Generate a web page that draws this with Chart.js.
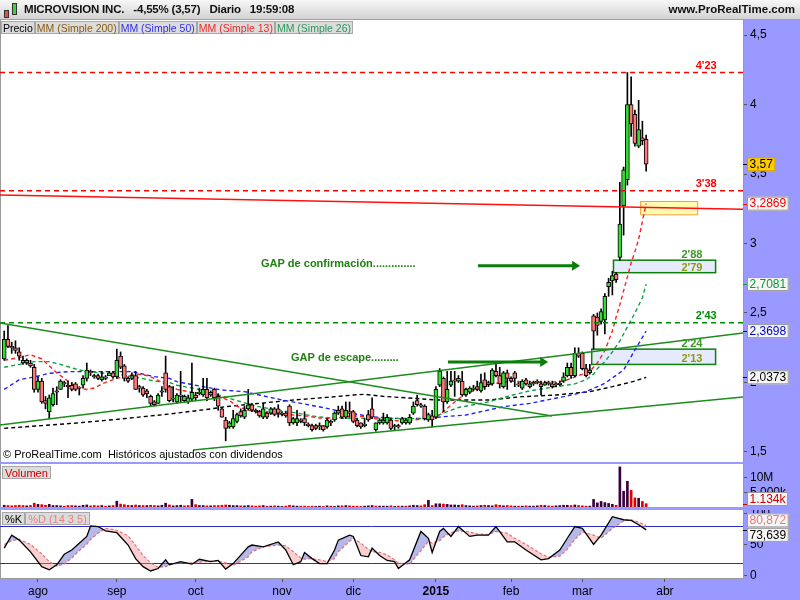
<!DOCTYPE html>
<html>
<head>
<meta charset="utf-8">
<title>MICROVISION INC.</title>
<script src="https://cdn.jsdelivr.net/npm/chart.js@4.4.1/dist/chart.umd.min.js"></script>
<style>
  body { margin: 0; width: 800px; height: 600px; overflow: hidden; position: relative;
         background: #9999ff; font-family: "Liberation Sans", Arial, sans-serif; }
  #head { position: absolute; left: 0; top: 0; width: 800px; height: 20px; box-sizing: border-box;
          background: linear-gradient(#f7f7f7, #d3d3d3); border-bottom: 1px solid #a0a0a0; }
  #title { position: absolute; left: 24px; top: 3px; display: flex; gap: 9px; letter-spacing: -0.2px;
           font-size: 11.5px; font-weight: bold; color: #111; white-space: nowrap; }
  #site { position: absolute; right: 5px; top: 3px; font-size: 11.5px; font-weight: bold; color: #111; }
  .row { position: absolute; display: flex; }
  .tag { height: 13px; line-height: 12px; font-size: 10.5px; padding: 0 1px;
         background: #dcdcdc; border: 1px solid #a8a8a8; box-sizing: border-box; white-space: nowrap; }
  canvas { position: absolute; left: 0; }
  .ico { position: absolute; border: 1px solid #333; }
</style>
</head>
<body>
<canvas id="price" width="800" height="442" style="top:20px"></canvas>
<canvas id="vol" width="800" height="43" style="top:464px"></canvas>
<canvas id="stoch" width="800" height="90" style="top:510px"></canvas>

<div id="head">
  <div class="ico" style="left:4px;top:10px;width:3px;height:6px;background:#e05050"></div>
  <div class="ico" style="left:12px;top:3px;width:3px;height:10px;background:#40d040"></div>
  <div id="title"><span>MICROVISION INC.</span><span>-4,55% (3,57)</span><span>Diario</span><span>19:59:08</span></div>
  <div id="site">www.ProRealTime.com</div>
</div>
<div class="row" style="left:1px;top:21px">
  <div class="tag" style="color:#000">Precio</div>
  <div class="tag" style="color:#8a5a10">MM (Simple 200)</div>
  <div class="tag" style="color:#3030ee">MM (Simple 50)</div>
  <div class="tag" style="color:#ee2a2a">MM (Simple 13)</div>
  <div class="tag" style="color:#2a9a5a">MM (Simple 26)</div>
</div>
<div style="position:absolute;left:3px;top:448px;font-size:11px;color:#000">© ProRealTime.com&nbsp; Históricos ajustados con dividendos</div>
<div class="row" style="left:2px;top:466px"><div class="tag" style="color:#cc0000;font-size:11px;padding:0 2px">Volumen</div></div>
<div class="row" style="left:2px;top:512px">
  <div class="tag" style="color:#000;font-size:11px;padding:0 2px">%K</div>
  <div class="tag" style="color:#e88080;font-size:11px;padding:0 2px">%D (14 3 5)</div>
</div>

<script>
const FONT = '"Liberation Sans", Arial, sans-serif';
Chart.defaults.font.family = FONT;

// ---- data (daily candles, index 0 = 21 jul 2014, 171 = 25 mar 2015)
const opens = [2.17,2.31,2.26,2.25,2.22,2.14,2.14,2.14,2.11,1.95,
  2.01,1.87,1.79,1.84,1.93,1.95,2.00,1.98,1.98,1.99,
  1.96,1.98,2.03,2.08,2.04,2.05,2.02,2.04,2.05,2.07,
  2.04,2.19,2.12,2.03,2.03,2.05,1.97,1.96,1.94,1.90,
  1.86,1.85,1.93,2.07,1.97,1.88,1.86,1.90,1.87,1.86,
  1.88,1.91,1.92,1.91,1.95,1.93,1.95,1.90,1.81,1.73,
  1.68,1.68,1.72,1.79,1.75,1.81,1.84,1.80,1.79,1.75,
  1.78,1.78,1.81,1.81,1.77,1.78,1.83,1.71,1.71,1.73,
  1.74,1.70,1.69,1.69,1.68,1.69,1.68,1.72,1.73,1.78,
  1.81,1.75,1.79,1.79,1.73,1.71,1.69,1.77,1.81,1.66,
  1.71,1.71,1.71,1.73,1.68,1.69,1.71,1.71,1.71,1.78,
  1.87,1.84,1.83,1.73,1.76,1.75,1.98,2.03,1.86,1.98,
  2.02,2.01,2.01,1.91,1.93,1.95,1.97,1.94,2.02,2.00,
  1.99,2.08,2.05,1.97,2.07,2.03,2.07,1.99,1.96,2.02,
  1.97,1.99,2.00,1.99,1.98,2.00,1.99,1.99,1.985,2.01,
  2.05,2.11,2.05,2.21,2.21,2.10,2.07,2.48,2.47,2.44,
  2.45,2.69,2.73,2.78,2.90,3.27,3.46,4.00,3.93,3.70,
  3.76,3.75];
const highs = [2.37,2.41,2.29,2.30,2.25,2.19,2.17,2.16,2.13,2.04,
  2.03,1.90,1.91,1.96,1.97,2.02,2.01,2.01,2.00,2.00,
  1.97,2.05,2.14,2.09,2.06,2.06,2.08,2.05,2.08,2.08,
  2.24,2.22,2.13,2.04,2.07,2.08,1.98,1.97,1.95,1.91,
  1.87,1.92,1.97,2.19,1.98,1.97,1.92,2.08,1.91,1.91,
  2.14,1.93,1.96,2.03,2.03,1.94,1.96,1.92,1.82,1.75,
  1.72,1.80,1.78,1.81,1.83,1.95,1.85,1.81,1.80,1.85,
  1.79,1.82,1.82,1.84,1.79,1.79,1.84,1.75,1.80,1.74,
  1.79,1.71,1.70,1.70,1.71,1.69,1.74,1.73,1.79,1.83,
  1.83,1.86,1.86,1.80,1.74,1.71,1.74,1.80,1.89,1.71,
  1.74,1.78,1.77,1.74,1.70,1.70,1.75,1.74,1.77,1.86,
  1.91,1.85,1.84,1.78,1.80,1.97,2.10,2.04,2.08,2.08,
  2.08,2.05,2.08,1.96,1.97,1.98,2.01,2.06,2.07,2.01,
  2.10,2.15,2.11,2.08,2.09,2.04,2.08,2.00,2.02,2.03,
  2.01,2.01,2.02,2.01,2.01,2.01,2.01,2.00,2.01,2.07,
  2.14,2.14,2.25,2.25,2.22,2.13,2.13,2.49,2.50,2.53,
  2.64,2.75,2.80,2.79,3.44,3.55,4.23,4.20,3.96,4.03,
  3.88,3.78];
const lows = [2.16,2.25,2.21,2.21,2.16,2.13,2.13,2.11,1.93,1.93,
  1.85,1.81,1.74,1.83,1.84,1.95,1.97,1.89,1.94,1.94,
  1.91,1.96,2.01,2.05,2.03,2.02,2.01,2.02,2.05,2.03,
  2.03,2.10,2.01,2.00,2.02,1.95,1.93,1.90,1.89,1.83,
  1.83,1.85,1.90,1.93,1.86,1.86,1.85,1.86,1.86,1.85,
  1.87,1.87,1.91,1.90,1.87,1.90,1.87,1.80,1.75,1.58,
  1.67,1.67,1.71,1.75,1.74,1.80,1.79,1.78,1.75,1.74,
  1.74,1.77,1.76,1.75,1.76,1.75,1.69,1.70,1.69,1.71,
  1.69,1.68,1.65,1.66,1.66,1.65,1.67,1.69,1.72,1.77,
  1.74,1.74,1.75,1.71,1.68,1.67,1.68,1.72,1.74,1.65,
  1.70,1.70,1.70,1.66,1.66,1.67,1.70,1.70,1.70,1.77,
  1.83,1.82,1.73,1.72,1.68,1.74,1.97,1.79,1.85,1.97,
  1.90,2.00,1.90,1.90,1.92,1.94,1.94,1.93,1.95,1.97,
  1.98,2.04,1.96,1.96,1.95,2.00,1.97,1.97,1.95,1.98,
  1.96,1.98,1.99,1.91,1.98,1.98,1.96,1.97,1.975,2.00,
  2.04,2.03,2.04,2.18,2.09,2.04,2.06,2.24,2.34,2.42,
  2.35,2.62,2.63,2.72,2.88,3.06,3.42,3.77,3.70,3.69,
  3.71,3.52];
const closes = [2.31,2.26,2.25,2.23,2.19,2.16,2.16,2.12,1.95,2.01,
  1.86,1.85,1.89,1.92,1.94,2.01,1.99,1.97,1.95,1.95,
  1.96,2.03,2.09,2.07,2.05,2.03,2.04,2.03,2.07,2.04,
  2.16,2.11,2.03,2.01,2.05,1.95,1.96,1.91,1.92,1.85,
  1.84,1.91,1.94,1.95,1.87,1.88,1.91,1.91,1.90,1.89,
  1.93,1.89,1.93,1.95,1.89,1.91,1.89,1.83,1.75,1.67,
  1.71,1.74,1.77,1.76,1.80,1.84,1.80,1.79,1.76,1.81,
  1.75,1.81,1.77,1.78,1.78,1.76,1.71,1.74,1.74,1.72,
  1.71,1.69,1.66,1.67,1.69,1.66,1.73,1.71,1.78,1.80,
  1.75,1.80,1.78,1.72,1.69,1.68,1.70,1.73,1.75,1.71,
  1.73,1.73,1.75,1.67,1.69,1.68,1.74,1.73,1.75,1.83,
  1.84,1.83,1.74,1.77,1.73,1.95,2.08,1.86,1.95,2.01,
  2.01,2.03,1.91,1.95,1.96,1.96,1.95,2.00,1.97,1.985,
  2.09,2.05,1.99,2.07,2.03,2.01,2.03,1.98,2.01,1.99,
  1.99,2.00,2.01,1.97,2.00,1.99,1.97,1.985,1.995,2.04,
  2.11,2.05,2.21,2.19,2.10,2.05,2.09,2.37,2.41,2.51,
  2.62,2.72,2.77,2.74,3.14,3.53,4.00,3.86,3.72,3.82,
  3.74,3.57];
// volume, millions of shares
const volumes = [0.6,0.5,0.4,0.5,0.6,0.5,0.4,0.5,1.3,0.9,
  0.8,0.6,0.9,0.5,0.5,0.4,0.3,0.5,0.5,0.4,
  0.3,0.6,0.7,0.4,0.5,0.4,0.5,0.3,0.4,0.5,
  2.0,1.0,0.8,0.6,0.5,0.7,0.5,0.5,0.5,0.6,
  0.5,0.4,0.6,1.3,0.7,0.4,0.5,0.6,0.4,0.5,
  2.6,0.8,0.5,0.5,0.4,0.4,0.5,0.5,0.6,0.7,
  0.6,0.5,0.5,0.4,0.4,0.5,0.4,0.3,0.4,0.5,
  0.3,0.3,0.4,0.3,0.2,0.3,0.6,0.4,0.3,0.3,
  0.3,0.2,0.3,0.2,0.3,0.2,0.4,0.3,0.2,0.4,
  0.4,0.5,0.4,0.3,0.3,0.2,0.3,0.4,0.5,0.3,
  0.3,0.3,0.3,0.4,0.2,0.3,0.3,0.3,0.4,0.6,
  0.5,0.4,0.8,2.3,0.5,1.1,1.1,1.0,0.9,0.7,
  0.7,0.6,0.8,0.5,0.4,0.3,0.4,0.5,0.6,0.5,
  0.4,0.8,0.6,0.4,0.5,0.4,0.3,0.3,0.3,0.4,
  0.3,0.3,0.4,0.6,0.5,0.4,0.3,0.4,0.5,0.6,
  0.6,0.5,0.7,0.5,0.4,0.3,0.3,2.6,1.4,1.9,
  1.5,1.2,0.9,0.6,13.7,5.4,8.8,5.7,3.1,3.0,
  1.9,1.134];

// moving averages: [day index, value]
const ma13 = [[0,2.16],[4,2.18],[7,2.20],[10,2.17],[12,2.12],[14,2.07],[16,2.03],[18,1.99],[20,1.96],
  [22,1.95],[24,1.96],[26,1.99],[28,2.01],[30,2.03],[33,2.05],[36,2.06],[38,2.05],[40,2.03],[42,2.0],
  [44,1.97],[46,1.95],[50,1.93],[54,1.92],[57,1.90],[60,1.87],[62,1.83],[65,1.80],[67,1.79],[70,1.78],
  [75,1.77],[80,1.76],[84,1.745],[87,1.74],[90,1.75],[94,1.76],[97,1.75],[100,1.735],[103,1.73],
  [106,1.72],[109,1.73],[112,1.74],[115,1.75],[117,1.79],[120,1.86],[123,1.92],[127,1.96],[130,1.99],
  [135,2.01],[140,2.0],[145,2.0],[149,2.01],[152,2.04],[154,2.06],[156,2.08],[158,2.14],[160,2.23],
  [161,2.30],[162,2.37],[163,2.47],[164,2.56],[165,2.66],[166,2.76],[167,2.86],[168,2.94],[169,3.03],
  [170,3.16],[171,3.2869]];
const ma26 = [[0,2.11],[4,2.13],[8,2.15],[12,2.15],[15,2.13],[20,2.09],[25,2.07],[30,2.06],[35,2.04],
  [40,2.01],[44,2.0],[46,1.98],[52,1.95],[57,1.91],[62,1.87],[67,1.83],[73,1.80],[78,1.78],[83,1.755],
  [88,1.742],[95,1.742],[100,1.745],[105,1.74],[110,1.74],[114,1.745],[117,1.78],[121,1.82],[125,1.84],
  [129,1.86],[134,1.90],[140,1.94],[147,1.97],[152,1.99],[155,2.02],[157,2.06],[158,2.10],[160,2.15],
  [162,2.22],[164,2.30],[166,2.40],[168,2.50],[170,2.61],[171,2.7081]];
const ma50 = [[0,1.95],[4,2.02],[8,2.04],[12,2.066],[17,2.078],[25,2.078],[34,2.078],[36,2.066],
  [40,2.042],[44,2.03],[46,2.006],[53,1.97],[58,1.946],[64,1.934],[68,1.91],[74,1.874],[79,1.85],
  [86,1.814],[90,1.79],[98,1.754],[104,1.742],[113,1.742],[117,1.754],[123,1.766],[127,1.79],
  [133,1.826],[140,1.85],[149,1.898],[155,1.934],[160,1.994],[165,2.09],[168,2.234],[171,2.3698]];
const ma200 = [[0,1.67],[10,1.69],[20,1.71],[30,1.735],[44,1.773],[55,1.81],[59,1.826],[68,1.85],
  [77,1.874],[86,1.893],[93,1.91],[96,1.915],[101,1.90],[109,1.886],[115,1.874],[129,1.874],
  [138,1.898],[147,1.91],[156,1.934],[162,1.97],[168,2.01],[171,2.0373]];

// stochastic (14 3 5)
const stochX = [0,2,4,7,10,12,14,16,18,20,22,23,25,27,30,33,35,37,39,41,43,44,47,50,52,55,57,59,61,65,
  66,69,73,75,77,79,80,82,84,86,88,89,92,93,95,97,98,100,102,104,105,108,111,113,114,116,117,119,121,
  124,126,129,131,134,136,139,143,145,148,150,152,154,157,159,162,165,167,169,171];
const stochK = [44,65,57,38,14,9,17,34,41,52,63,80,79,72,69,49,27,14,7,11,25,17,22,18,26,22,24,10,19,46,
  49,46,54,41,17,22,37,27,19,19,41,57,65,63,32,30,44,32,24,22,11,25,71,60,37,71,76,63,79,
  63,65,65,79,54,54,41,25,27,41,60,79,76,50,65,95,90,89,82,73.639];
const stochD = [50,56,58,50,35,22,15,18,28,40,50,58,68,76,73,64,48,32,20,13,14,17,20,20,21,23,23,20,16,30,
  38,46,49,48,38,28,26,27,25,22,27,38,55,60,52,42,38,37,33,25,20,18,40,55,52,56,62,69,72,
  70,67,66,71,68,60,50,35,29,31,42,58,70,65,60,76,88,90,86,80.872];

const priceTicks = [1.5, 2, 2.5, 3, 3.5, 4, 4.5];
const monthIdx = [9, 30, 51, 74, 93, 115, 135, 154, 176];
const monthLabels = ['ago', 'sep', 'oct', 'nov', 'dic', '2015', 'feb', 'mar', 'abr'];

// drawings on the price panel, in (day index, price) units
const levelLines = [[4.23, '#ff0000', "4'23"], [3.38, '#ff0000', "3'38"], [2.43, '#008c00', "2'43"]];
const trendLines = [
  [-1.12, 3.349, 196.8, 3.246, '#ff1010'],
  [-1.12, 2.428, 145.9, 1.759, '#1c8c1c'],
  [-1.12, 1.694, 196.8, 2.356, '#1c8c1c'],
  [50.3, 1.514, 196.8, 1.896, '#1c8c1c']
];
const gapBoxes = [[162.3, 189.5, 2.79, 2.88, "2'88", "2'79"], [156.5, 189.5, 2.13, 2.24, "2'24", "2'13"]];
const zoneBox = [169.4, 184.6, 3.21, 3.306];
const arrows = [[126.2, 153.4, 2.84], [118.2, 144.9, 2.147]];
const notes = [[68.4, 2.853, 'GAP de confirmación..............'], [76.4, 2.176, 'GAP de escape.........']];

const XMIN = -1.12, XMAX = 196.8;
const days = closes.map((c, i) => i);

const panelBg = {
  id: 'panelBg',
  beforeDraw(chart) {
    const { ctx, chartArea: a } = chart;
    ctx.save();
    ctx.fillStyle = '#fff';
    ctx.fillRect(a.left, a.top, a.right - a.left, a.bottom - a.top);
    ctx.fillStyle = '#999';
    ctx.fillRect(a.left, a.top, 1, a.bottom - a.top);
    ctx.restore();
  }
};

function drawTag(ctx, x, y, text, color, fill, border) {
  ctx.font = '12px ' + FONT;
  const w = ctx.measureText(text).width + 5;
  ctx.fillStyle = fill;
  ctx.fillRect(x, y - 7, w, 14);
  ctx.strokeStyle = border;
  ctx.lineWidth = 1;
  ctx.strokeRect(x + 0.5, y - 6.5, w - 1, 13);
  ctx.fillStyle = color;
  ctx.textAlign = 'left';
  ctx.textBaseline = 'middle';
  ctx.fillText(text, x + 2.5, y + 0.5);
}

function yAxis(min, max, ticks, fmt) {
  return {
    position: 'right', min, max,
    afterBuildTicks: s => { s.ticks = ticks.map(v => ({ value: v })); },
    afterFit: s => { s.width = 57; s.paddingTop = 0; s.paddingBottom = 0; },
    ticks: { callback: fmt, color: '#000', font: { size: 12 }, padding: 3 },
    grid: { drawOnChartArea: false, tickLength: 4, color: '#555' },
    border: { color: '#999' }
  };
}

const hiddenX = { type: 'linear', min: XMIN, max: XMAX, offset: false, display: false };
const comma = v => String(v).replace('.', ',');

// price panel drawings under the candles
const zonesUnder = {
  id: 'zonesUnder',
  beforeDatasetsDraw(chart) {
    const { ctx, chartArea: a, scales: { x, y } } = chart;
    ctx.save();
    ctx.beginPath(); ctx.rect(a.left, a.top, a.right - a.left, a.bottom - a.top); ctx.clip();
    gapBoxes.forEach(b => {
      const x0 = x.getPixelForValue(b[0]), x1 = x.getPixelForValue(b[1]);
      const yt = y.getPixelForValue(b[3]), yb = y.getPixelForValue(b[2]);
      ctx.fillStyle = 'rgba(225,232,252,0.85)';
      ctx.fillRect(x0, yt, x1 - x0, yb - yt);
      ctx.strokeStyle = '#0a800a'; ctx.lineWidth = 1.5;
      ctx.strokeRect(x0, yt, x1 - x0, yb - yt);
    });
    const zx0 = x.getPixelForValue(zoneBox[0]), zx1 = x.getPixelForValue(zoneBox[1]);
    const zyt = y.getPixelForValue(zoneBox[3]), zyb = y.getPixelForValue(zoneBox[2]);
    ctx.fillStyle = 'rgba(255,250,150,0.75)';
    ctx.fillRect(zx0, zyt, zx1 - zx0, zyb - zyt);
    ctx.strokeStyle = '#f0a030'; ctx.lineWidth = 1;
    ctx.strokeRect(zx0 + 0.5, zyt + 0.5, zx1 - zx0, zyb - zyt);
    ctx.restore();
  }
};

// lines, arrows and notes over the candles, then the value tags on the axis
const drawings = {
  id: 'drawings',
  afterDatasetsDraw(chart) {
    const { ctx, chartArea: a, scales: { x, y } } = chart;
    ctx.save();
    ctx.beginPath(); ctx.rect(a.left, a.top, a.right - a.left, a.bottom - a.top); ctx.clip();
    const labelX = x.getPixelForValue(187);
    ctx.font = 'bold 11px ' + FONT;
    ctx.textAlign = 'center'; ctx.textBaseline = 'middle';
    levelLines.forEach(l => {
      const py = y.getPixelForValue(l[0]);
      ctx.strokeStyle = l[1]; ctx.lineWidth = 1.4; ctx.setLineDash([5, 4]);
      ctx.beginPath(); ctx.moveTo(a.left, py); ctx.lineTo(a.right, py); ctx.stroke();
      ctx.setLineDash([]);
      ctx.fillStyle = l[1];
      ctx.fillText(l[2], labelX, py - 7);
    });
    trendLines.forEach(t => {
      ctx.strokeStyle = t[4]; ctx.lineWidth = 1.4;
      ctx.beginPath();
      ctx.moveTo(x.getPixelForValue(t[0]), y.getPixelForValue(t[1]));
      ctx.lineTo(x.getPixelForValue(t[2]), y.getPixelForValue(t[3]));
      ctx.stroke();
    });
    const gx = x.getPixelForValue(183.2);
    gapBoxes.forEach(b => {
      ctx.fillStyle = '#3c9628';
      ctx.fillText(b[4], gx, y.getPixelForValue(b[3]) - 5);
      ctx.fillStyle = '#8c9a10';
      ctx.fillText(b[5], gx, y.getPixelForValue(b[2]) - 5);
    });
    arrows.forEach(r => {
      const x0 = x.getPixelForValue(r[0]), x1 = x.getPixelForValue(r[1]), py = y.getPixelForValue(r[2]);
      ctx.strokeStyle = '#0a7d0a'; ctx.fillStyle = '#0a7d0a'; ctx.lineWidth = 3;
      ctx.beginPath(); ctx.moveTo(x0, py); ctx.lineTo(x1 - 6, py); ctx.stroke();
      ctx.beginPath(); ctx.moveTo(x1, py); ctx.lineTo(x1 - 8, py - 5); ctx.lineTo(x1 - 8, py + 5); ctx.closePath(); ctx.fill();
    });
    ctx.textAlign = 'left';
    ctx.fillStyle = '#1f8210';
    notes.forEach(n => ctx.fillText(n[2], x.getPixelForValue(n[0]), y.getPixelForValue(n[1])));
    ctx.restore();
  },
  afterDraw(chart) {
    const { ctx, chartArea: a, scales: { y } } = chart;
    const tags = [
      [ma200[ma200.length - 1][1], '2,0373', '#000', '#f6f6f6', '#999'],
      [ma50[ma50.length - 1][1], '2,3698', '#0000cc', '#f6f6f6', '#999'],
      [ma26[ma26.length - 1][1], '2,7081', '#0a9a3a', '#f6f6f6', '#999'],
      [ma13[ma13.length - 1][1], '3,2869', '#ff0000', '#f6f6f6', '#999'],
      [closes[closes.length - 1], comma(closes[closes.length - 1]), '#000', '#ffcc00', '#d0a000']
    ];
    ctx.save();
    tags.forEach(t => {
      const py = y.getPixelForValue(t[0]);
      ctx.fillStyle = t[2];
      ctx.fillRect(a.right, Math.round(py), 4, 1);
      drawTag(ctx, a.right + 4, py, t[1], t[2], t[3], t[4]);
    });
    ctx.restore();
  }
};

const maLine = (pts, color, order) => ({
  type: 'line', data: pts.map(p => ({ x: p[0], y: p[1] })), borderColor: color,
  borderWidth: 1.4, borderDash: [4, 3], pointRadius: 0, order
});

new Chart(document.getElementById('price'), {
  type: 'bar',
  data: {
    datasets: [
      { data: days.map(i => ({ x: i, y: [opens[i], closes[i]] })), grouped: false, barThickness: 4,
        minBarLength: 1, borderWidth: 1, borderColor: '#000', borderSkipped: false,
        backgroundColor: days.map(i => closes[i] >= opens[i] ? '#33dd33' : '#ff7777'), order: 0 },
      { data: days.map(i => ({ x: i, y: [lows[i], highs[i]] })), grouped: false, barThickness: 1,
        borderWidth: 0, backgroundColor: '#000', order: 1 },
      maLine(ma13, '#ff2020', 2),
      maLine(ma26, '#10a040', 3),
      maLine(ma50, '#2020ff', 4),
      maLine(ma200, '#000', 5)
    ]
  },
  options: {
    responsive: false, animation: false, devicePixelRatio: 1,
    layout: { padding: 0 },
    plugins: { legend: { display: false }, tooltip: { enabled: false } },
    scales: { x: hiddenX, y: yAxis(1.428, 4.608, priceTicks, comma) }
  },
  plugins: [panelBg, zonesUnder, drawings]
});

const volTag = {
  id: 'volTag',
  afterDraw(chart) {
    const { ctx, chartArea: a, scales: { y } } = chart;
    const v = volumes[volumes.length - 1];
    const py = Math.min(y.getPixelForValue(v), a.bottom - 8);
    ctx.save();
    ctx.fillStyle = '#cc0000';
    ctx.fillRect(a.right, Math.round(y.getPixelForValue(v)), 4, 1);
    drawTag(ctx, a.right + 4, py, '1.134k', '#cc0000', '#f6f6f6', '#999');
    ctx.restore();
  }
};

new Chart(document.getElementById('vol'), {
  type: 'bar',
  data: {
    datasets: [{
      data: days.map(i => ({ x: i, y: volumes[i] })), grouped: false, barThickness: 2, borderWidth: 0,
      backgroundColor: days.map(i => closes[i] >= (i ? closes[i - 1] : opens[i]) ? '#3a003a' : '#dd0000')
    }]
  },
  options: {
    responsive: false, animation: false, devicePixelRatio: 1,
    layout: { padding: 0 },
    plugins: { legend: { display: false }, tooltip: { enabled: false } },
    scales: { x: hiddenX, y: yAxis(0, 14.7, [5, 10], v => v === 10 ? '10M' : '5.000k') }
  },
  plugins: [panelBg, volTag]
});

const stochExtras = {
  id: 'stochExtras',
  beforeDatasetsDraw(chart) {
    const { ctx, chartArea: a, scales: { y } } = chart;
    ctx.save();
    ctx.strokeStyle = '#2a2acc'; ctx.lineWidth = 1;
    [80, 20].forEach(v => {
      const py = Math.round(y.getPixelForValue(v)) + 0.5;
      ctx.beginPath(); ctx.moveTo(a.left, py); ctx.lineTo(a.right, py); ctx.stroke();
    });
    ctx.restore();
  },
  afterDraw(chart) {
    const { ctx, chartArea: a, scales: { y } } = chart;
    const d = stochD[stochD.length - 1], k = stochK[stochK.length - 1];
    ctx.save();
    ctx.fillStyle = '#000';
    ctx.fillRect(a.right, Math.round(y.getPixelForValue(k)), 4, 1);
    drawTag(ctx, a.right + 4, y.getPixelForValue(d) - 5, comma(d), '#e87878', '#f6f6f6', '#999');
    drawTag(ctx, a.right + 4, y.getPixelForValue(k) + 5, comma(k), '#000', '#f6f6f6', '#999');
    ctx.restore();
  }
};

new Chart(document.getElementById('stoch'), {
  type: 'line',
  data: {
    datasets: [
      { data: stochX.map((v, i) => ({ x: v, y: stochK[i] })), borderColor: '#000', borderWidth: 1.3,
        pointRadius: 0, fill: { target: 1, above: 'rgba(110,115,210,0.5)', below: 'rgba(240,140,140,0.42)' } },
      { data: stochX.map((v, i) => ({ x: v, y: stochD[i] })), borderColor: '#ee7070', borderWidth: 1.2,
        borderDash: [3, 2], pointRadius: 0, fill: false }
    ]
  },
  options: {
    responsive: false, animation: false, devicePixelRatio: 1,
    layout: { padding: 0 },
    plugins: { legend: { display: false }, tooltip: { enabled: false } },
    scales: {
      x: {
        type: 'linear', min: XMIN, max: XMAX, offset: false,
        afterBuildTicks: s => { s.ticks = monthIdx.map(v => ({ value: v })); },
        afterFit: s => { s.height = 22; s.paddingLeft = 0; s.paddingRight = 0; },
        ticks: {
          callback: (v, k) => monthLabels[k], autoSkip: false, maxRotation: 0, color: '#000', padding: 2,
          font: c => ({ size: 12, weight: c.index === 5 ? 'bold' : 'normal' })
        },
        grid: { drawOnChartArea: false, tickLength: 4, color: '#555' },
        border: { color: '#999' }
      },
      y: yAxis(-4.4, 105.8, [0, 50, 100], v => String(v))
    }
  },
  plugins: [panelBg, stochExtras]
});
</script>
</body>
</html>
